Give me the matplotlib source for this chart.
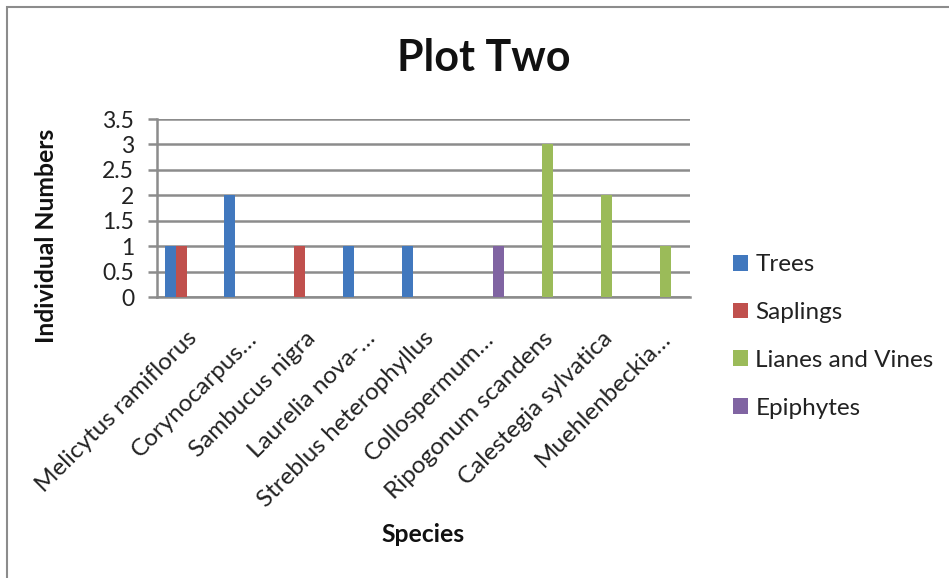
import matplotlib
matplotlib.use("Agg")
import matplotlib.pyplot as plt
from matplotlib.patches import Rectangle
import numpy as np

categories = ["Melicytus ramiflorus", "Corynocarpus…", "Sambucus nigra",
              "Laurelia nova-…", "Streblus heterophyllus", "Collospermum…",
              "Ripogonum scandens", "Calestegia sylvatica", "Muehlenbeckia…"]
trees = [1, 2, 0, 1, 1, 0, 0, 0, 0]
saplings = [1, 0, 1, 0, 0, 0, 0, 0, 0]
lianes = [0, 0, 0, 0, 0, 0, 3, 2, 1]
epiphytes = [0, 0, 0, 0, 0, 1, 0, 0, 0]
series_names = ["Trees", "Saplings", "Lianes and Vines", "Epiphytes"]
yticks = [0, 0.5, 1, 1.5, 2, 2.5, 3, 3.5]
ytick_labels = ["0", "0.5", "1", "1.5", "2", "2.5", "3", "3.5"]

colors = ["#4178BE", "#C0504D", "#9BBB59", "#8064A2"]
plt.rcParams['font.family'] = ['Lato', 'DejaVu Sans']
W, H = 949, 578
fig = plt.figure(figsize=(W / 100, H / 100), dpi=100)

# chart border
fig.patches.append(Rectangle((7 / W, -0.01), 1.0, 1 - 7 / H + 0.01, transform=fig.transFigure,
                             fill=False, edgecolor="#8c8c8c", linewidth=1.5))

ax = fig.add_axes([157 / W, 1 - 297 / H, (690 - 157) / W, (297 - 119) / H])
x = np.arange(len(categories))
bw = 1 / 5.5
for i, (vals, name) in enumerate(zip([trees, saplings, lianes, epiphytes], series_names)):
    ax.bar(x + (i - 1.5) * bw, vals, width=bw, color=colors[i], label=name, zorder=3)

ax.set_xlim(-0.5, len(categories) - 0.5)
ax.set_ylim(0, 3.5)
ax.set_yticks(yticks)
ax.set_yticklabels(ytick_labels, fontsize=16.5, color="#222222")
ax.yaxis.grid(True, color="#8c8c8c", linewidth=1.8, zorder=0)
ax.tick_params(axis='y', length=6.5, width=1.8, color="#8c8c8c", pad=10)
ax.set_xticks(x)
ax.set_xticklabels(categories, rotation=45, ha='right', rotation_mode='anchor',
                   fontsize=17.5, color="#222222")
ax.tick_params(axis='x', length=0, pad=22)
for s in ["top", "right"]:
    ax.spines[s].set_visible(False)
for s in ["left", "bottom"]:
    ax.spines[s].set_color("#8c8c8c")
    ax.spines[s].set_linewidth(1.8)

fig.text(484 / W, 1 - 58 / H, "Plot Two", fontsize=31, fontweight='bold',
         ha='center', va='center', color="#111111")
fig.text(47 / W, 1 - 236 / H, "Individual Numbers", fontsize=17.8, fontweight='bold',
         rotation=90, ha='center', va='center', color="#111111")
fig.text(423 / W, 1 - 535 / H, "Species", fontsize=17.8, fontweight='bold',
         ha='center', va='center', color="#111111")

fig.legend(loc='center left', bbox_to_anchor=(733 / W, 1 - 336.5 / H), frameon=False,
           fontsize=17.5, handlelength=0.62, handleheight=0.62, handletextpad=0.3,
           labelspacing=1.1, borderpad=0, borderaxespad=0, labelcolor="#222222")

fig.savefig("out.png", dpi=100)
